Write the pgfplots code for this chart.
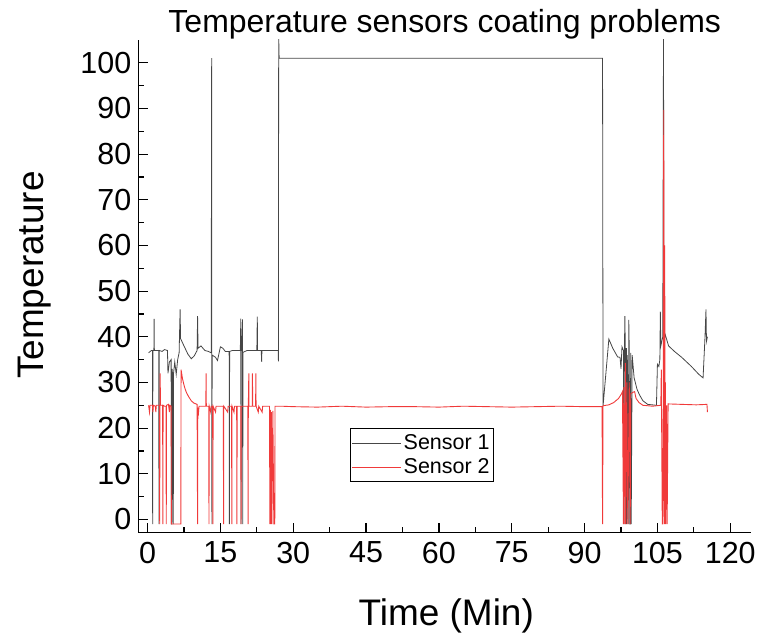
\documentclass[border=0pt]{standalone}
\usepackage{fontspec}
\setmainfont{Liberation Sans}
\usepackage{pgfplots}
\pgfplotsset{compat=1.18}
\definecolor{sgray}{RGB}{70,70,70}
\definecolor{sred}{RGB}{240,58,58}
\begin{document}
\begin{tikzpicture}
\begin{axis}[
  scale only axis, width=613.5pt, height=493.3pt,
  xmin=-1.9, xmax=124.3, ymin=-2.9, ymax=105,
  axis x line=bottom, axis y line=left,
  axis line style={-, line width=1.5pt},
  xtick={0,15,...,120}, minor x tick num=1,
  ytick={0,10,...,100}, minor y tick num=1,
  tick align=inside, major tick length=10pt, minor tick length=6pt,
  tick style={black, line width=1.2pt},
  tick label style={font=\fontsize{30.5}{36}\selectfont},
  /pgf/number format/assume math mode=true,
  yticklabel style={xshift=-3.5pt},
  xticklabel style={yshift=-5.7pt},
  title={Temperature sensors coating problems},
  title style={at={(axis description cs:0.5,1)}, anchor=base, yshift=1.5pt, font=\fontsize{32}{38}\selectfont},
  xlabel={Time (Min)},
  xlabel style={at={(axis description cs:0.5025,-0.188)}, anchor=base, font=\fontsize{37}{44}\selectfont},
  ylabel={Temperature},
  ylabel style={at={(axis description cs:-0.154,0.5226)}, anchor=base, font=\fontsize{37}{44}\selectfont},
  legend style={at={(axis description cs:0.3447,0.2129)}, anchor=north west, draw=black, line width=0.8pt,
    font=\fontsize{21.5}{25}\selectfont, inner xsep=2pt, inner ysep=4.5pt, row sep=3.5pt,
    cells={anchor=west}, fill=white, nodes={inner sep=2pt, text depth=0.15em}},
  legend image code/.code={\draw[#1, line width=0.8pt] (0pt,0pt) -- (49pt,0pt);},
]
\addplot[sgray, line width=0.8pt] coordinates {
(0.2,36.5)(0.8,37.0)(1.0,37.0)(1.05,-1)(1.1,37)(1.3,37)(1.35,43.9)(1.4,37)
(2.0,37)(2.3,37)(2.35,-1)(2.4,37)(3.0,36.8)(3.5,37.2)(4.1,37)(4.2,32)(4.5,34.5)
(4.85,35)(4.9,-1)(5.0,-1)(5.1,33)(5.3,-1)(5.35,32)(5.6,34.5)(5.9,31.8)(6.2,35)
(6.5,36.5)(6.7,46)(6.8,39.6)(7.5,38)(8.3,36.2)(9.0,35.2)(9.6,35.8)(10.2,37)
(10.3,44.5)(10.4,37.5)(11.0,38)(11.8,37)(12.5,36.8)(13.1,36.5)(13.2,101)(13.25,-1)
(13.3,36)(14.0,35.5)(14.4,34.8)(15.0,37.8)(15.5,37.5)(16.0,36.8)(16.8,36.8)
(16.85,-1)(16.9,36.8)(17.5,37)(18.5,37)(19.1,37)(19.2,44)(19.25,-1)(19.3,36.5)
(19.55,43.8)(19.6,-1)(19.65,36.6)(20.5,37)(22.5,37)(22.6,44.4)(22.65,37)(23.4,37)
(23.5,34.5)(23.55,37)(26.9,37)(26.95,34.6)(27.0,106)(27.1,101)(93.7,101)(93.8,24.8)
(95.0,39.5)(95.8,37.5)(96.8,35.6)(97.3,35.5)(97.5,33)(97.7,37.8)(98.0,37)(98.1,-1)
(98.2,37)(98.3,44.5)(98.4,36)(98.5,-1)(98.6,37.5)(98.7,-1)(98.8,36)(99.0,-1)(99.1,43.7)
(99.2,37)(99.3,-1)(99.4,-1)(99.5,36.5)(99.6,-1)(99.8,36)(100.2,31)(100.8,28.5)(101.3,27.3)(102,26)
(103,25.2)(104.8,25)(105.0,34)(105.3,33.5)(105.5,35)(105.6,45.5)(105.7,38)
(106.1,40)(106.25,106)(106.35,39)(106.6,40.5)(107.3,38)(108.5,36.8)(110,35.5)
(112,33.5)(113.5,31.8)(114.4,31)(114.8,40)(115.0,46)(115.1,39)(115.3,40)
};
\addlegendentry{Sensor 1}
\addplot[sred, line width=0.9pt] coordinates {
(0.2,25)(0.4,23.5)(0.5,25)(1.0,25)(1.1,23.5)(1.2,25)(1.6,24.8)(1.7,23.5)(1.8,25)
(2.45,25)(2.5,-1)(2.55,25)(2.6,32)(2.65,25)(3.1,25)(3.15,-1)(3.2,25)(3.5,24.8)
(3.8,24.8)(3.85,-1)(3.9,25)(4.3,25.2)(4.5,23.5)(4.6,25)(4.85,24.8)(4.9,-1)
(6.85,-1)(6.9,32.8)(7.2,30.8)(7.6,29)(8.0,27.8)(8.5,26.8)(9.0,26)(9.5,25.5)
(10.2,25.2)(10.3,-1)(10.35,24.5)(10.5,23.5)(10.6,24.8)(11.5,24.8)(12.0,24.8)
(12.05,32)(12.1,24.8)(12.6,24.8)(12.65,-1)(12.7,24.8)(13.0,23.5)(13.1,24.8)
(13.4,24.8)(13.45,-1)(13.5,24.8)(14.0,23.5)(14.1,24.8)(15.6,24.8)(15.65,-1)
(15.7,24.8)(16.5,23.5)(16.6,24.8)(17.3,24.8)(17.35,-1)(17.4,24.8)(17.8,23.5)
(17.9,24.8)(18.35,24.8)(18.4,-1)(18.45,24.8)(19.2,24.8)(19.25,-1)(19.3,24.8)
(20.65,24.8)(20.7,-1)(20.75,24.8)(20.85,32)(20.9,24.8)(21.55,24.8)(21.6,32)
(21.65,24.8)(22.25,24.8)(22.3,32)(22.35,24.8)(22.8,23.5)(22.9,24.8)(23.6,23.5)
(23.7,24.8)(25.1,24.8)(25.2,-1)(25.3,24)(25.4,-1)(25.5,23.5)(25.6,-1)(25.8,23.8)
(26.0,-1)(26.2,-1)(26.25,24.8)(27.5,24.8)(30,24.7)(35,24.6)(40,24.8)(45,24.6)
(50,24.7)(55,24.7)(60,24.6)(65,24.8)(70,24.7)(75,24.6)(80,24.7)(85,24.8)(90,24.7)
(93.6,24.7)(93.7,-1)(93.8,24.9)(95,25.1)(96,25.6)(97,26.5)(97.6,27.5)(97.8,28)
(98.0,-1)(98.1,29)(98.3,-1)(98.4,34.3)(98.5,-1)(98.7,30)(98.9,-1)(99.2,30)
(99.4,-1)(99.5,27.5)(99.9,27.8)(100.3,28)(100.6,26.5)(101.2,25.6)(102,25)
(104,24.8)(105.7,25)(105.8,32.8)(105.85,24)(106.0,-1)(106.1,-1)(106.2,25)(106.3,89.7)
(106.4,-1)(106.5,60)(106.6,-1)(106.65,30)(106.7,-1)(106.9,25)(107.0,-1)(107.2,25.3)(110,25.2)
(113,25.1)(115.2,25.2)(115.3,23.5)
};
\addlegendentry{Sensor 2}
\end{axis}
\path (current axis.south west) ++(-138.5pt,-103.7pt) rectangle ++(759pt,637pt);
\end{tikzpicture}
\end{document}
